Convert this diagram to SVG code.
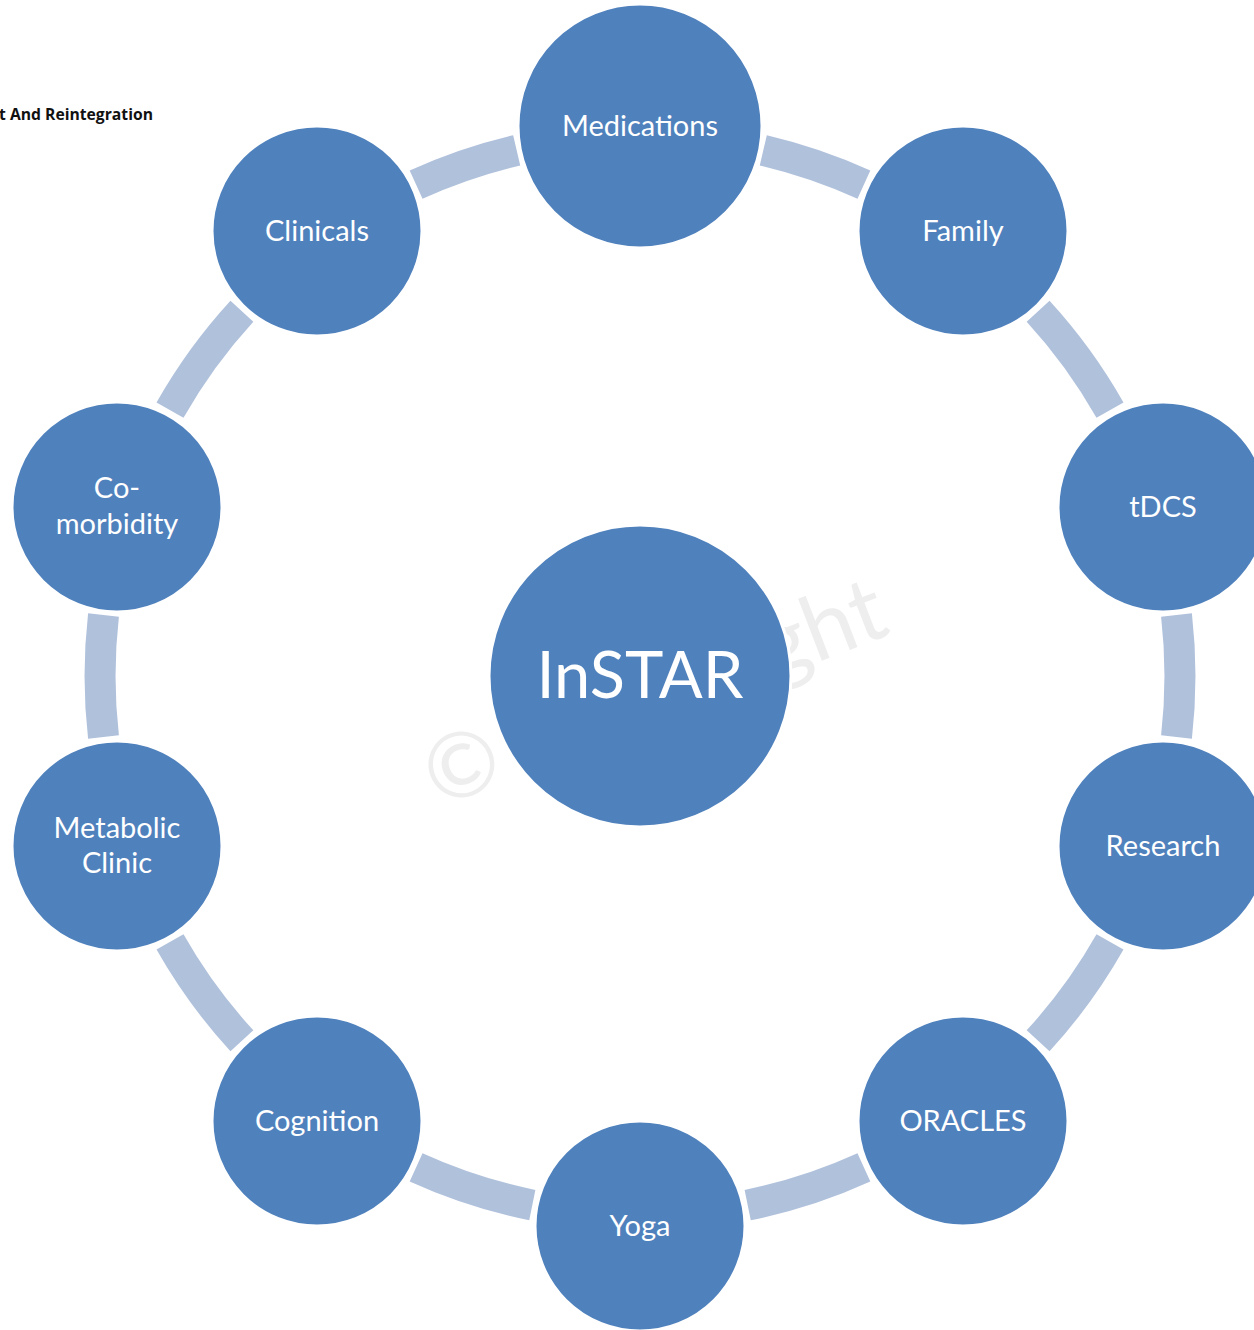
<svg xmlns="http://www.w3.org/2000/svg" width="1254" height="1330" viewBox="0 0 1254 1330">
  <style>
    .band { fill: none; stroke: #B0C1DC; stroke-width: 31; stroke-linecap: butt; }
    .node { fill: #4F81BD; stroke: #FFFFFF; stroke-width: 3; }
    .lbl { font-family: Lato, "Open Sans", "Liberation Sans", sans-serif; font-size: 29px; fill: #FFFFFF; text-anchor: middle; }
    .hub { font-family: Lato, "Open Sans", "Liberation Sans", sans-serif; font-size: 65px; fill: #FFFFFF; text-anchor: middle; }
    .mark { font-family: Lato, "Open Sans", "Liberation Sans", sans-serif; font-size: 90px; fill: #EEEEEE; }
    .title { font-family: "Open Sans", "Liberation Sans", sans-serif; font-size: 15.5px; font-weight: bold; fill: #111111; text-anchor: end; }
  </style>
  <rect width="1254" height="1330" fill="#FFFFFF"/>

  <text class="title" x="153" y="120" textLength="154" lengthAdjust="spacingAndGlyphs">t And Reintegration</text>

  <!-- faint watermark behind the hub -->
  <text class="mark" x="438" y="808" transform="rotate(-21 438 808)">© Copyright</text>

  <g id="connectors">
    <path class="band" d="M763.3 150.3 A540 540 0 0 1 863.9 184.6"/>
    <path class="band" d="M1038.1 311.2 A540 540 0 0 1 1110.0 410.1"/>
    <path class="band" d="M1176.5 614.9 A540 540 0 0 1 1176.5 737.1"/>
    <path class="band" d="M1110.0 941.9 A540 540 0 0 1 1038.1 1040.8"/>
    <path class="band" d="M863.9 1167.4 A540 540 0 0 1 747.7 1205.1"/>
    <path class="band" d="M532.3 1205.1 A540 540 0 0 1 416.1 1167.4"/>
    <path class="band" d="M241.9 1040.8 A540 540 0 0 1 170.0 941.9"/>
    <path class="band" d="M103.5 737.1 A540 540 0 0 1 103.5 614.9"/>
    <path class="band" d="M170.0 410.1 A540 540 0 0 1 241.9 311.2"/>
    <path class="band" d="M416.1 184.6 A540 540 0 0 1 516.7 150.3"/>
  </g>

  <g id="instar">
    <circle class="node" cx="640" cy="676" r="151"/>
    <text class="hub" x="640" y="698">InSTAR</text>
  </g>
  <g id="medications">
    <circle class="node" cx="640" cy="126" r="122"/>
    <text class="lbl" x="640" y="136">Medications</text>
  </g>
  <g id="family">
    <circle class="node" cx="963" cy="231" r="105"/>
    <text class="lbl" x="963" y="241">Family</text>
  </g>
  <g id="tdcs">
    <circle class="node" cx="1163" cy="507" r="105"/>
    <text class="lbl" x="1163" y="517">tDCS</text>
  </g>
  <g id="research">
    <circle class="node" cx="1163" cy="846" r="105"/>
    <text class="lbl" x="1163" y="856">Research</text>
  </g>
  <g id="oracles">
    <circle class="node" cx="963" cy="1121" r="105"/>
    <text class="lbl" x="963" y="1131">ORACLES</text>
  </g>
  <g id="yoga">
    <circle class="node" cx="640" cy="1226" r="105"/>
    <text class="lbl" x="640" y="1236">Yoga</text>
  </g>
  <g id="cognition">
    <circle class="node" cx="317" cy="1121" r="105"/>
    <text class="lbl" x="317" y="1131">Cognition</text>
  </g>
  <g id="metabolic-clinic">
    <circle class="node" cx="117" cy="846" r="105"/>
    <text class="lbl" x="117" y="838">Metabolic</text>
    <text class="lbl" x="117" y="873">Clinic</text>
  </g>
  <g id="co-morbidity">
    <circle class="node" cx="117" cy="507" r="105"/>
    <text class="lbl" x="117" y="498">Co-</text>
    <text class="lbl" x="117" y="534">morbidity</text>
  </g>
  <g id="clinicals">
    <circle class="node" cx="317" cy="231" r="105"/>
    <text class="lbl" x="317" y="241">Clinicals</text>
  </g>
</svg>
